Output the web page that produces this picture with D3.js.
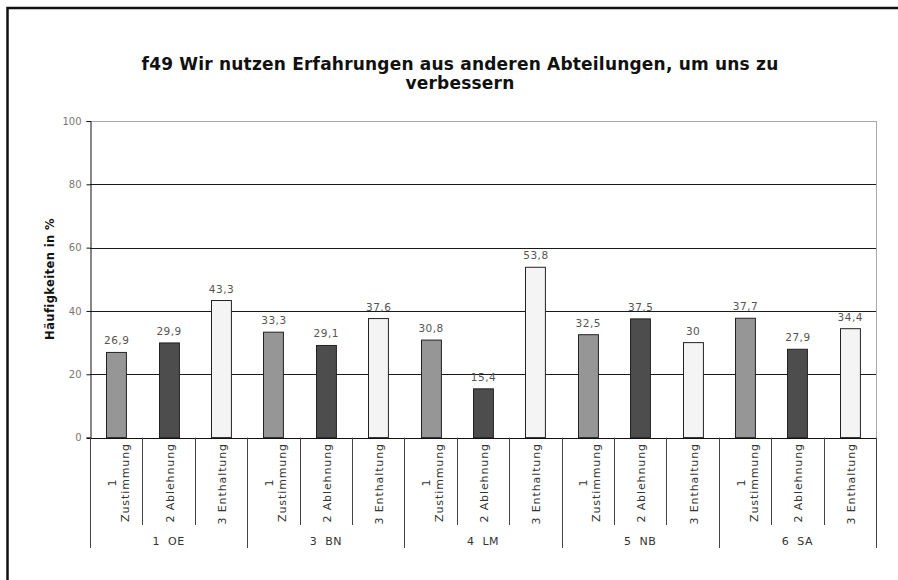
<!DOCTYPE html>
<html>
<head>
<meta charset="utf-8">
<script src="https://cdn.jsdelivr.net/npm/d3@7"></script>
<style>
  html, body { margin: 0; padding: 0; background: #fff; }
  svg { display: block; font-family: "DejaVu Sans", Verdana, sans-serif; }
</style>
</head>
<body>
<svg id="chart" width="898" height="580"></svg>
<script>
// Survey item f49, answer shares per department (percent)
const groups = ["1  OE", "3  BN", "4  LM", "5  NB", "6  SA"];
const answers = [["1", "Zustimmung"], ["2 Ablehnung"], ["3 Enthaltung"]];
const zustimmung = [26.9, 33.3, 30.8, 32.5, 37.7];
const ablehnung  = [29.9, 29.1, 15.4, 37.5, 27.9];
const enthaltung = [43.3, 37.6, 53.8, 30, 34.4];
const yTicks = [0, 20, 40, 60, 80, 100];

const titleLines = ["f49 Wir nutzen Erfahrungen aus anderen Abteilungen, um uns zu", "verbessern"];
const yTitle = "Häufigkeiten in %";

const seriesValues = [zustimmung, ablehnung, enthaltung];
const fills = ["#969696", "#4d4d4d", "#f4f4f4"];

// flat list of bars: one per department x answer
const bars = [];
groups.forEach((g, gi) => {
  answers.forEach((a, ai) => {
    bars.push({ key: gi + "-" + ai, group: gi, answer: ai, value: seriesValues[ai][gi] });
  });
});

const svg = d3.select("#chart");
const plot = { left: 90, right: 876, top: 121, bottom: 437.6 };

const x = d3.scaleBand()
  .domain(bars.map(d => d.key))
  .range([plot.left, plot.right])
  .paddingInner(0.62)
  .paddingOuter(0.31);
const step = x.step();
const slotLeft = i => plot.left + i * step;

const y = d3.scaleLinear().domain([0, 100]).range([plot.bottom, plot.top]);

// outer frame
svg.append("path")
  .attr("d", `M7.5,600 V8 H900`)
  .attr("fill", "none").attr("stroke", "#111").attr("stroke-width", 2.5);

// title
const title = svg.append("text")
  .attr("x", 460).attr("y", 70)
  .attr("text-anchor", "middle")
  .attr("font-weight", "bold").attr("font-size", 17)
  .attr("letter-spacing", 0.2)
  .attr("fill", "#111");
titleLines.forEach((t, i) => {
  title.append("tspan").attr("x", 460).attr("dy", i === 0 ? 0 : 18.5).text(t);
});

// gridlines
svg.append("g").selectAll("line")
  .data(yTicks.filter(t => t > 0))
  .join("line")
  .attr("x1", plot.left).attr("x2", plot.right)
  .attr("y1", d => Math.round(y(d)) + 0.5).attr("y2", d => Math.round(y(d)) + 0.5)
  .attr("stroke", d => d === 100 ? "#a8a8a8" : "#1a1a1a")
  .attr("stroke-width", 1);

// right border of plot area
svg.append("line")
  .attr("x1", plot.right + 0.5).attr("x2", plot.right + 0.5)
  .attr("y1", y(100)).attr("y2", plot.bottom)
  .attr("stroke", "#a8a8a8");

// y axis
const yAxis = d3.axisLeft(y).tickValues(yTicks).tickSize(4).tickPadding(5).tickFormat(d3.format("d"));
const yg = svg.append("g")
  .attr("transform", `translate(${plot.left + 0.5},0)`)
  .call(yAxis);
yg.select(".domain").attr("stroke", "#111");
yg.selectAll(".tick line").attr("stroke", "#111");
yg.selectAll(".tick text")
  .attr("font-size", 10).attr("fill", "#777")
  .attr("font-family", "DejaVu Sans, Verdana, sans-serif");

// y axis title
svg.append("text")
  .attr("transform", `translate(54,279) rotate(-90)`)
  .attr("text-anchor", "middle")
  .attr("font-weight", "bold").attr("font-size", 11.5)
  .attr("letter-spacing", 0.4)
  .attr("fill", "#111")
  .text(yTitle);

// bars
svg.append("g").selectAll("rect")
  .data(bars)
  .join("rect")
  .attr("x", d => Math.round(x(d.key)) + 0.5)
  .attr("y", d => y(d.value))
  .attr("width", x.bandwidth())
  .attr("height", d => plot.bottom - y(d.value))
  .attr("fill", d => fills[d.answer])
  .attr("stroke", "#222").attr("stroke-width", 1);

// value labels
svg.append("g").selectAll("text")
  .data(bars)
  .join("text")
  .attr("x", d => x(d.key) + x.bandwidth() / 2 + 0.5)
  .attr("y", d => y(d.value) - 8)
  .attr("text-anchor", "middle")
  .attr("font-size", 10.5).attr("letter-spacing", 0.5).attr("fill", "#555")
  .text(d => String(d.value).replace(".", ","));

// x axis baseline
svg.append("line")
  .attr("x1", plot.left - 3).attr("x2", plot.right)
  .attr("y1", Math.round(plot.bottom) + 0.5).attr("y2", Math.round(plot.bottom) + 0.5)
  .attr("stroke", "#111");

// category table: separators between answers and between departments
const seps = d3.range(bars.length + 1);
svg.append("g").selectAll("line")
  .data(seps)
  .join("line")
  .attr("x1", i => Math.round(slotLeft(i)) + 0.5)
  .attr("x2", i => Math.round(slotLeft(i)) + 0.5)
  .attr("y1", plot.bottom)
  .attr("y2", i => i % answers.length === 0 ? 548 : 525)
  .attr("stroke", "#444");

// rotated answer labels
const labelTop = 443;
const ansG = svg.append("g").selectAll("g")
  .data(bars)
  .join("g");
ansG.each(function (d) {
  const lines = answers[d.answer];
  const cx = slotLeft(d.group * answers.length + d.answer) + step / 2;
  const t = d3.select(this).append("text")
    .attr("text-anchor", "middle")
    .attr("font-size", 11).attr("letter-spacing", 0.9).attr("fill", "#333");
  const lineGap = 13;
  const first = lines.length === 1 ? 5 : -0.5;
  lines.forEach((l, i) => {
    t.append("tspan").attr("x", 0).attr("y", first + i * lineGap).text(l);
  });
  // block of lines is centred, anchored to the top of the table
  let maxLen = 0;
  t.selectAll("tspan").each(function () { maxLen = Math.max(maxLen, this.getComputedTextLength()); });
  t.attr("transform", `translate(${cx},${labelTop + maxLen / 2}) rotate(-90)`);
});

// department labels
svg.append("g").selectAll("text")
  .data(groups)
  .join("text")
  .attr("x", (g, i) => slotLeft(i * answers.length) + step * answers.length / 2)
  .attr("y", 545)
  .attr("text-anchor", "middle")
  .attr("font-size", 11).attr("letter-spacing", 0.5).attr("fill", "#333")
  .style("white-space", "pre")
  .text(g => g);
</script>
</body>
</html>
